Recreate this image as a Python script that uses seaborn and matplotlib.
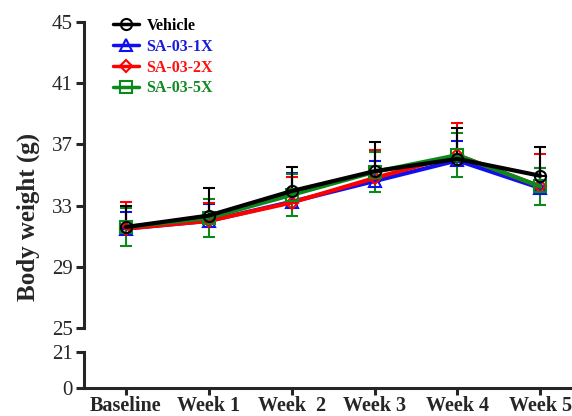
import numpy as np
import matplotlib
matplotlib.use('Agg')
import matplotlib.pyplot as plt
import seaborn as sns
from matplotlib.lines import Line2D

weeks = ['Baseline', 'Week 1', 'Week  2', 'Week 3', 'Week 4', 'Week 5']

vehicle_mean = [31.6, 32.35, 33.95, 35.25, 36.05, 34.95]
vehicle_sd = [1.4, 1.8, 1.6, 1.9, 2.0, 1.9]
x1_mean = [31.5, 32.0, 33.25, 34.6, 35.95, 34.15]
x1_sd = [1.05, 1.1, 1.85, 1.3, 1.3, 1.3]
x2_mean = [31.5, 32.0, 33.2, 34.8, 36.3, 34.25]
x2_sd = [1.75, 1.15, 1.7, 1.85, 2.1, 2.15]
x5_mean = [31.6, 32.2, 33.7, 35.2, 36.3, 34.25]
x5_sd = [1.27, 1.22, 1.36, 1.33, 1.42, 1.21]

groups = ['Vehicle', 'SA-03-1X', 'SA-03-2X', 'SA-03-5X']

sns.set_style('ticks')
plt.rcParams['font.family'] = ['Liberation Serif', 'DejaVu Serif']

fig = plt.figure(figsize=(5.72, 4.16), dpi=100)
left, right = 84 / 572, 570 / 572
ax = fig.add_axes([left, 1 - 328 / 416, right - left, (328 - 22) / 416])
axb = fig.add_axes([left, 1 - 388 / 416, right - left, (388 - 352) / 416])

xpos = np.arange(len(weeks))
# (mean, sd, colour, marker, both-sided error bars?)
series = [
    (x1_mean, x1_sd, '#1010ee', '^', False),
    (x2_mean, x2_sd, '#ff0000', 'D', False),
    (x5_mean, x5_sd, '#0a8a1a', 's', True),
    (vehicle_mean, vehicle_sd, '#000000', 'o', False),
]
for mean, sd, col, mk, both in series:
    sd = np.array(sd)
    yerr = [sd, sd] if both else [np.zeros_like(sd), sd]
    ax.errorbar(xpos, mean, yerr=yerr, fmt='none', ecolor=col, elinewidth=1.5,
                capsize=4, capthick=1.5, zorder=2)
    sns.lineplot(x=xpos, y=mean, ax=ax, color=col, linewidth=3, marker=mk,
                 markersize=8 if mk != 'D' else 6, markerfacecolor='none',
                 markeredgecolor=col, markeredgewidth=1.5, zorder=3)

xlo, xhi = -0.507, 5.36
for a in (ax, axb):
    a.set_xlim(xlo, xhi)
    a.spines['top'].set_visible(False)
    a.spines['right'].set_visible(False)
    a.spines['left'].set_linewidth(2.2)
    a.tick_params(axis='y', direction='out', length=6, width=2.2, labelsize=15, pad=2)

ax.set_ylim(25, 45)
ax.set_yticks([25, 29, 33, 37, 41, 45])
ax.spines['bottom'].set_visible(False)
ax.set_xticks([])
ax.set_xlabel('')
ax.set_ylabel('')

axb.set_ylim(0, 21)
axb.set_yticks([0, 21])
axb.spines['bottom'].set_linewidth(2.2)
axb.set_xticks(xpos)
axb.set_xticklabels(weeks, fontweight='bold', fontsize=14.5)
axb.tick_params(axis='x', direction='out', length=5, width=2.2, pad=0.5)

fig.text(28 / 572, 1 - 217 / 416, 'Body weight (g)', rotation=90, ha='center',
         va='center', fontsize=18, fontweight='bold')

handles = [
    Line2D([], [], color='#000000', lw=2.5, marker='o', ms=8, mfc='none', mew=1.5),
    Line2D([], [], color='#1010ee', lw=2.5, marker='^', ms=8, mfc='none', mew=1.5),
    Line2D([], [], color='#ff0000', lw=2.5, marker='D', ms=6, mfc='none', mew=1.5),
    Line2D([], [], color='#0a8a1a', lw=2.5, marker='s', ms=8, mfc='none', mew=1.5),
]
leg = ax.legend(handles, groups, loc='upper left', bbox_to_anchor=(0.03, 1.06),
                frameon=False, prop={'weight': 'bold', 'size': 11.5},
                labelcolor=['#000000', '#1a1add', '#ff1010', '#118822'],
                handlelength=1.6, handletextpad=0.5, labelspacing=0.3)

fig.savefig('out.png', dpi=100)
